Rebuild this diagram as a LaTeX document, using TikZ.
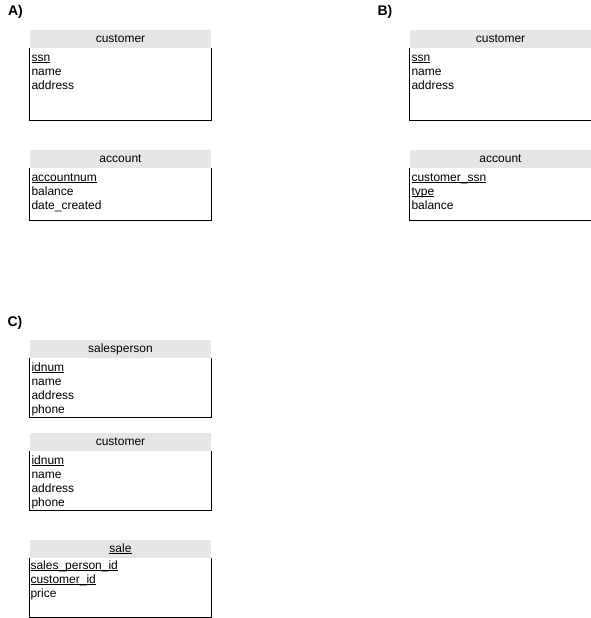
\documentclass[tikz,border=0pt]{standalone}
\usepackage{fontspec}
\setmainfont{Liberation Sans}
\usetikzlibrary{positioning}
\definecolor{headgray}{HTML}{E6E6E6}
\newcommand{\keyattr}[1]{\setbox0\hbox{#1}\rlap{\rule[-1.6pt]{\wd0}{0.7pt}}\box0}

\tikzset{
  tablehead/.style={fill=headgray, minimum width=181pt, minimum height=18pt, inner sep=0pt, font=\fontsize{12}{14}\selectfont},
  tablebody/.style={minimum width=181pt, inner sep=0pt, below=0pt of #1},
  attrs/.style={anchor=north west, align=left, inner sep=0pt, font=\fontsize{12}{14}\selectfont},
  panel/.style={font=\fontsize{14}{16}\selectfont\bfseries, inner sep=0pt},
  frame/.style={line width=1pt},
}

\begin{document}
\begin{tikzpicture}[x=1pt,y=-1pt]
   \useasboundingbox[fill=white] (0,0) rectangle (591,618);

   % A)
   \node[panel] (pa) at (15.5,12) {A)};
   \node[tablehead] (acust) at (120.5,39) {customer};
   \node[tablebody=acust, minimum height=72pt] (acustb) {};
   \node[attrs] (acusta) at ([xshift=1.5pt,yshift=-3.2pt]acustb.north west) {\strut\keyattr{ssn}\\name\\address};
   \node[tablehead] (aacct) at (120.5,159) {account};
   \node[tablebody=aacct, minimum height=52pt] (aacctb) {};
   \node[attrs] (aaccta) at ([xshift=1.5pt,yshift=-3.2pt]aacctb.north west) {\strut\keyattr{accountnum}\\balance\\date\_created};

   % B)
   \node[panel] (pb) at (385,12) {B)};
   \node[tablehead] (bcust) at (500.5,39) {customer};
   \node[tablebody=bcust, minimum height=72pt] (bcustb) {};
   \node[attrs] (bcusta) at ([xshift=1.5pt,yshift=-3.2pt]bcustb.north west) {\strut\keyattr{ssn}\\name\\address};
   \node[tablehead] (bacct) at (500.5,159) {account};
   \node[tablebody=bacct, minimum height=52pt] (bacctb) {};
   \node[attrs] (baccta) at ([xshift=1.5pt,yshift=-3.2pt]bacctb.north west) {\strut\keyattr{customer\_ssn}\\\keyattr{type}\\balance};

   % C)
   \node[panel] (pc) at (15,323) {C)};
   \node[tablehead] (csp) at (120.5,349) {salesperson};
   \node[tablebody=csp, minimum height=59pt] (cspb) {};
   \node[attrs] (cspa) at ([xshift=1.5pt,yshift=-3.2pt]cspb.north west) {\strut\keyattr{idnum}\\name\\address\\phone};
   \node[tablehead] (ccust) at (120.5,442) {customer};
   \node[tablebody=ccust, minimum height=59pt] (ccustb) {};
   \node[attrs] (ccusta) at ([xshift=1.5pt,yshift=-3.2pt]ccustb.north west) {\strut\keyattr{idnum}\\name\\address\\phone};
   \node[tablehead] (csale) at (120.5,549) {\keyattr{sale}};
   \node[tablebody=csale, minimum height=59pt] (csaleb) {};
   \node[attrs] (csalea) at ([xshift=0.5pt,yshift=-1pt]csaleb.north west) {\strut\keyattr{sales\_person\_id}\\\keyattr{customer\_id}\\price};

   % table borders (left, bottom, right)
   \foreach \b in {acustb,aacctb,bcustb,bacctb,cspb,ccustb,csaleb}
     \draw[frame] (\b.north west) |- (\b.south east) -- (\b.north east);
\end{tikzpicture}
\end{document}
